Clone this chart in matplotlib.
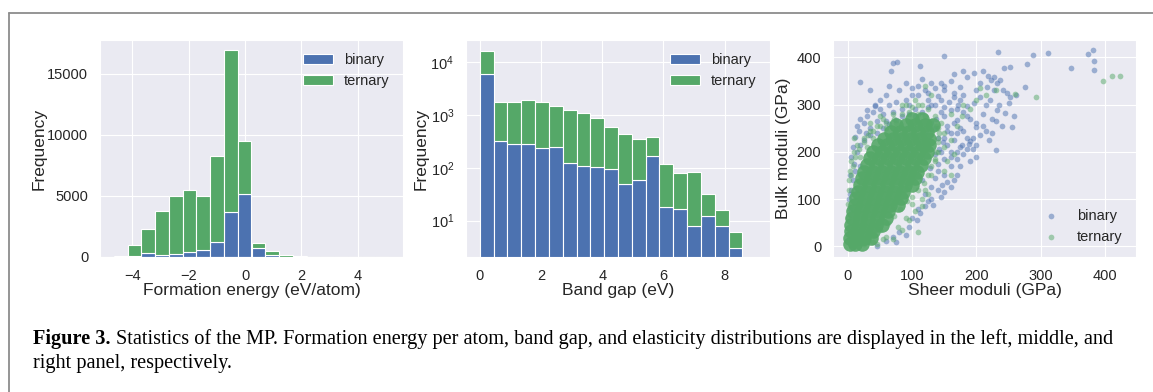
import numpy as np
import matplotlib
matplotlib.use("Agg")
import matplotlib.pyplot as plt
import seaborn as sns
from matplotlib.lines import Line2D

# ---------------- data ----------------
fe_edges = [-4.65, -4.162, -3.674, -3.186, -2.698, -2.21, -1.722, -1.234, -0.746, -0.258,
            0.23, 0.718, 1.206, 1.694, 2.182, 2.67, 3.158, 3.646, 4.134, 4.622, 5.11]
fe_binary = [20, 80, 330, 190, 250, 440, 570, 1230, 3720, 5140, 710, 160, 40, 10, 5, 2, 1, 1, 0, 1]
fe_ternary = [90, 900, 1940, 3610, 4780, 5050, 4460, 7050, 13190, 4340, 440, 320, 100, 40, 15, 8, 4, 2, 2, 2]

bg_edges = [0.0, 0.4515, 0.903, 1.3545, 1.806, 2.2575, 2.709, 3.1605, 3.612, 4.0635, 4.515,
            4.9665, 5.418, 5.8695, 6.321, 6.7725, 7.224, 7.6755, 8.127, 8.5785, 9.03]
bg_binary = [5930, 327, 279, 285, 241, 252, 126, 110, 105, 94, 49, 59, 170, 18, 17, 8, 12, 8, 3, 0]
bg_ternary = [10670, 1423, 1511, 1645, 1509, 1238, 1124, 970, 764, 510, 389, 289, 220, 99, 62, 74, 20, 8, 3, 0]

bin_sheer = [20, 71, 76, 68, 112, 149, 234, 288, 312, 374, 381, 383, 383, 347, 278, 253, 243, 231, 276,
             175, 185, 196, 206, 216, 222, 227, 232, 237, 242, 247, 250, 253, 258, 245, 232, 221, 206, 196, 185,
             175, 165, 160, 150, 170, 190, 210, 200, 180, 160, 189, 190, 150, 140, 130, 145, 160, 200, 215, 225,
             240, 235, 180, 170, 155, 205, 228, 218, 255, 262, 210, 180, 165,
             12, 15, 20, 30, 43, 50, 60, 35, 42, 55, 25, 18, 65, 80, 90, 100, 95, 75, 85, 110, 115, 120, 125, 130,
             105, 70, 60, 45, 35, 28, 8, 5, 10, 3, 6, 2,
             146, 154, 165, 150, 140, 160, 170, 180, 175, 160, 150, 140, 135, 130, 120, 125, 110, 100, 95, 80, 70,
             60, 45, 115, 128, 145, 155, 165, 185, 195, 200, 175, 140, 135, 150,
             60, 80, 100, 110, 90, 120, 40, 30,
             130, 138, 145, 150, 158, 165, 172, 180, 185, 170, 165, 155, 148, 142, 135, 160, 170, 178, 185, 195,
             200, 210, 215, 220, 225, 230, 140, 150, 160, 130, 120, 112, 108, 90, 75, 132, 145, 170, 175, 190, 200,
             15, 20, 25, 35, 45, 55, 65, 75, 85, 95, 105, 115, 125, 135, 145, 20, 12, 8, 4, 3, 30, 40, 50, 65, 90,
             100, 110, 125, 135, 150]
bin_bulk = [347, 387, 391, 372, 382, 403, 411, 405, 410, 408, 415, 392, 373, 378, 385, 380, 378, 203, 337,
            338, 359, 366, 345, 338, 352, 359, 345, 352, 331, 324, 303, 317, 275, 282, 289, 310, 317, 303, 296,
            310, 324, 289, 275, 268, 270, 280, 252, 245, 240, 216, 222, 330, 318, 300, 345, 350, 330, 300, 270,
            255, 300, 320, 290, 255, 235, 330, 360, 252, 320, 372, 372, 365,
            232, 254, 270, 289, 296, 310, 320, 330, 300, 280, 260, 245, 340, 330, 345, 320, 300, 305, 290, 340,
            355, 330, 310, 345, 290, 285, 265, 265, 250, 240, 210, 190, 175, 150, 120, 100,
            130, 137, 140, 150, 160, 170, 185, 195, 210, 200, 185, 175, 145, 125, 110, 95, 80, 60, 40, 30, 20,
            12, 1, 140, 165, 200, 215, 225, 230, 205, 215, 250, 230, 250, 230,
            150, 180, 200, 220, 230, 240, 120, 80,
            260, 270, 285, 295, 305, 315, 300, 285, 275, 240, 260, 245, 220, 205, 195, 190, 200, 215, 205, 230,
            260, 255, 245, 225, 240, 265, 120, 115, 125, 100, 85, 70, 55, 25, 10, 88, 105, 150, 170, 180, 190,
            200, 215, 225, 235, 240, 250, 258, 268, 275, 280, 275, 285, 295, 300, 310, 170, 160, 140, 110, 80,
            275, 285, 290, 300, 310, 335, 320, 325, 335, 340]

ter_sheer = [397, 410, 423, 292, 260, 230, 215, 200, 190, 178, 170, 160, 150, 140, 155, 165, 135, 130, 120,
             115, 105, 95, 85, 60, 40, 70, 110, 100, 140, 135, 125, 115, 105, 85, 70, 55, 45, 35, 25, 15, 10,
             5, 3, 2, 20, 30, 140, 145, 150, 160, 180, 205, 120, 130, 40, 60, 75, 5, 10,
             0, 1, 2, 5, 8, 12, 18, 25, 32, 40, 50, 60, 72, 85, 95, 110, 120, 130, 138, 142, 140, 138, 135,
             130, 125, 118, 110, 100, 92, 82, 72, 62, 50, 42, 32, 25, 45, 55, 78, 90, 115, 125, 150, 160, 90,
             100, 110, 50, 35, 10]
ter_bulk = [349, 361, 361, 317, 323, 330, 320, 310, 290, 275, 255, 225, 210, 200, 180, 195, 180, 150, 120,
            100, 75, 55, 35, 20, 10, 15, 30, 90, 250, 275, 290, 300, 310, 300, 280, 270, 255, 245, 230, 215, 200,
            180, 160, 140, 190, 210, 230, 260, 240, 280, 300, 335, 340, 320, 230, 250, 260, 5, 2,
            60, 90, 120, 150, 170, 190, 205, 220, 235, 245, 255, 262, 270, 280, 285, 280, 275, 265, 255, 240,
            220, 200, 185, 170, 150, 135, 120, 105, 95, 80, 65, 50, 35, 25, 12, 5, 5, 15, 40, 60, 85, 110, 160,
            150, 300, 295, 300, 275, 260, 230]

core_sheer = [3, 12, 22,
              4, 14, 26, 36,
              5, 15, 27, 40,
              6, 17, 30, 44, 54,
              7, 19, 32, 46, 60,
              9, 21, 35, 49, 63,
              11, 24, 38, 52, 66, 78,
              13, 27, 41, 55, 69, 83,
              16, 30, 44, 58, 72, 86,
              19, 33, 47, 61, 75, 89, 100,
              22, 36, 50, 64, 78, 92, 104,
              26, 40, 54, 68, 82, 96, 108,
              30, 44, 58, 72, 86, 100, 114,
              35, 49, 63, 77, 91, 105, 118,
              40, 54, 68, 82, 96, 110, 123,
              47, 61, 75, 89, 103, 117, 127,
              56, 70, 84, 98, 112, 126,
              68, 82, 96, 110, 124,
              75, 90, 105, 120, 132,
              100, 115]
core_bulk = [5, 5, 5,
             18, 18, 18, 18,
             32, 32, 32, 32,
             46, 46, 46, 46, 46,
             60, 60, 60, 60, 60,
             74, 74, 74, 74, 74,
             88, 88, 88, 88, 88, 88,
             102, 102, 102, 102, 102, 102,
             116, 116, 116, 116, 116, 116,
             130, 130, 130, 130, 130, 130, 130,
             144, 144, 144, 144, 144, 144, 144,
             158, 158, 158, 158, 158, 158, 158,
             172, 172, 172, 172, 172, 172, 172,
             186, 186, 186, 186, 186, 186, 186,
             200, 200, 200, 200, 200, 200, 200,
             214, 214, 214, 214, 214, 214, 214,
             228, 228, 228, 228, 228, 228,
             242, 242, 242, 242, 242,
             256, 256, 256, 256, 256,
             270, 270]

series_labels = ["binary", "ternary"]
caption_bold = "Figure 3."
caption_line1 = ("Statistics of the MP. Formation energy per atom, band gap, and elasticity "
                 "distributions are displayed in the left, middle, and")
caption_line2 = "right panel, respectively."

# ---------------- style ----------------
sns.set_style("darkgrid")
plt.rcParams['font.family'] = ['Liberation Sans', 'DejaVu Sans']
plt.rcParams['text.color'] = '.15'
plt.rcParams['axes.labelcolor'] = '.15'
plt.rcParams['xtick.color'] = '.15'
plt.rcParams['ytick.color'] = '.15'

BLUE = "#4C72B0"
GREEN = "#55A868"
TICK = 10.5
LABEL = 12.5

W, H = 1153, 392
fig = plt.figure(figsize=(W / 100, H / 100), dpi=100)
fig.patch.set_facecolor("white")


def box(x0, x1, y0, y1):
    return [x0 / W, 1 - y1 / H, (x1 - x0) / W, (y1 - y0) / H]


ax1 = fig.add_axes(box(100, 403, 40, 257))
ax2 = fig.add_axes(box(466, 770, 40, 257))
ax3 = fig.add_axes(box(833, 1136, 40, 257))

# left panel
e = np.array(fe_edges)
w = np.diff(e)
b = np.array(fe_binary)
t = np.array(fe_ternary)
ax1.bar(e[:-1], b, width=w, align='edge', color=BLUE, edgecolor='white', linewidth=0.8, label=series_labels[0])
ax1.bar(e[:-1], t, width=w, bottom=b, align='edge', color=GREEN, edgecolor='white', linewidth=0.8,
        label=series_labels[1])
ax1.set_xticks([-4, -2, 0, 2, 4])
ax1.set_xticklabels(["\u22124", "\u22122", "0", "2", "4"])
ax1.set_yticks([0, 5000, 10000, 15000])
ax1.set_xlabel("Formation energy (eV/atom)", fontsize=LABEL, labelpad=0)
ax1.set_ylabel("Frequency", fontsize=LABEL, labelpad=0)
ax1.legend(loc="upper right", fontsize=TICK, frameon=False)

# middle panel
e2 = np.array(bg_edges)
w2 = np.diff(e2)
b2 = np.array(bg_binary)
t2 = np.array(bg_ternary)
ax2.set_yscale('log')
ax2.bar(e2[:-1], b2, width=w2, align='edge', color=BLUE, edgecolor='white', linewidth=0.8, label=series_labels[0])
ax2.bar(e2[:-1], t2, width=w2, bottom=b2, align='edge', color=GREEN, edgecolor='white', linewidth=0.8,
        label=series_labels[1])
ax2.set_ylim(2.05, 26500)
ax2.set_xlim(-0.45, 9.48)
ax2.set_xticks([0, 2, 4, 6, 8])
ax2.set_yticks([10, 100, 1000, 10000])
ax2.yaxis.set_minor_locator(matplotlib.ticker.NullLocator())
ax2.set_xlabel("Band gap (eV)", fontsize=LABEL, labelpad=0)
ax2.set_ylabel("Frequency", fontsize=LABEL, labelpad=1)
ax2.legend(loc="upper right", fontsize=TICK, frameon=False)

# right panel
ax3.scatter(bin_sheer, bin_bulk, s=17, color=BLUE, alpha=0.5, linewidths=0, label=series_labels[0])
ax3.scatter(core_sheer, core_bulk, s=110, color=GREEN, alpha=0.9, linewidths=0)
ax3.scatter(ter_sheer, ter_bulk, s=17, color=GREEN, alpha=0.5, linewidths=0, label=series_labels[1])
ax3.set_xlim(-22.7, 448)
ax3.set_ylim(-22.5, 436.6)
ax3.set_xticks([0, 100, 200, 300, 400])
ax3.set_yticks([0, 100, 200, 300, 400])
ax3.set_xlabel("Sheer moduli (GPa)", fontsize=LABEL, labelpad=0)
ax3.set_ylabel("Bulk moduli (GPa)", fontsize=LABEL)
ax3.legend(loc="lower right", fontsize=TICK, frameon=False)

for ax in (ax1, ax2, ax3):
    ax.tick_params(labelsize=TICK, pad=5)

# frame lines
fig.add_artist(Line2D([9 / W, 1.0], [1 - 12.5 / H, 1 - 12.5 / H], color="#8c8c8c", lw=1.3))
fig.add_artist(Line2D([9 / W, 9 / W], [0, 1 - 12.5 / H], color="#8c8c8c", lw=1.3))

# caption
cap_font = ['Liberation Serif', 'DejaVu Serif']
cs = 14.6
tb = fig.text(33 / W, 1 - 344 / H, caption_bold, fontsize=cs, fontweight='bold', family=cap_font,
              color='black', va='baseline', ha='left')
fig.canvas.draw()
bb = tb.get_window_extent()
tx = fig.text((bb.x1 + 5) / W, 1 - 344 / H, caption_line1, fontsize=cs, family=cap_font,
              color='black', va='baseline', ha='left')
fig.text(33 / W, 1 - 368 / H, caption_line2, fontsize=cs, family=cap_font,
         color='black', va='baseline', ha='left')

fig.savefig("out.png", dpi=100, facecolor="white")
